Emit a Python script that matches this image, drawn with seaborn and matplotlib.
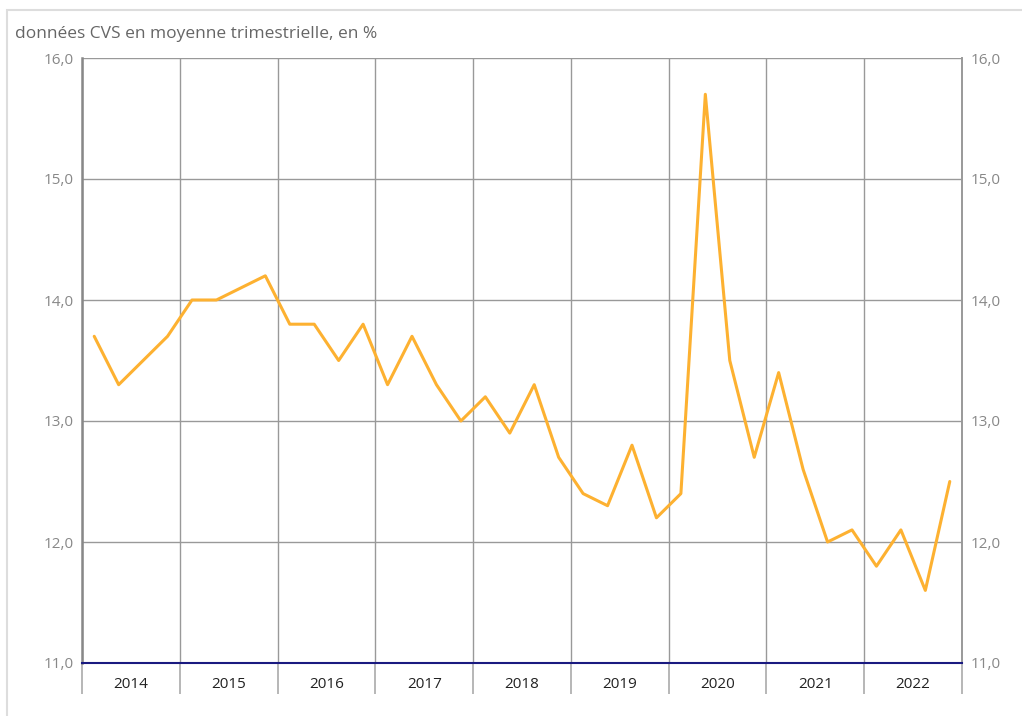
import numpy as np
import pandas as pd
import matplotlib.pyplot as plt
import seaborn as sns
from matplotlib.patches import Rectangle

# --- Data ---
years = [2014, 2015, 2016, 2017, 2018, 2019, 2020, 2021, 2022]
quarters = ['T1', 'T2', 'T3', 'T4']
rates = [13.7, 13.3, 13.5, 13.7,
         14.0, 14.0, 14.1, 14.2,
         13.8, 13.8, 13.5, 13.8,
         13.3, 13.7, 13.3, 13.0,
         13.2, 12.9, 13.3, 12.7,
         12.4, 12.3, 12.8, 12.2,
         12.4, 15.7, 13.5, 12.7,
         13.4, 12.6, 12.0, 12.1,
         11.8, 12.1, 11.6, 12.5]
y_ticks = [11.0, 12.0, 13.0, 14.0, 15.0, 16.0]
title = 'données CVS en moyenne trimestrielle, en %'

df = pd.DataFrame({
    'periode': [f'{y} {q}' for y in years for q in quarters],
    'pos': np.arange(len(rates)) + 0.5,
    'taux': rates,
})

sns.set_style('white')
plt.rcParams['font.family'] = ['Open Sans', 'DejaVu Sans']

fig = plt.figure(figsize=(10.22, 7.16), dpi=100)
ax = fig.add_axes([82 / 1022, 53 / 716, 880 / 1022, 605 / 716])

# light frame around the chart
fig.patches.append(Rectangle((7 / 1022, -0.05), 1.1, (716 - 10) / 716 + 0.05,
                             transform=fig.transFigure, fill=False,
                             edgecolor='#dddddd', linewidth=1.5))

sns.lineplot(data=df, x='pos', y='taux', ax=ax, color='#FDB131', linewidth=2.2)

ax.set_xlim(0, len(rates))
ax.set_ylim(11.0, 16.0)

# year separators as major ticks that run below the axis
bounds = np.arange(0, len(rates) + 1, 4)
ax.set_xticks(bounds)
ax.set_xticklabels([])
ax.set_xticks(bounds[:-1] + 2, minor=True)
ax.set_xticklabels([str(y) for y in years], minor=True)
ax.tick_params(axis='x', which='major', direction='out', length=22,
               width=1.2, color='#aaaaaa', bottom=True)
ax.tick_params(axis='x', which='minor', length=0, pad=10,
               labelsize=11, labelcolor='#222222')

ax.set_yticks(y_ticks)
ax.set_yticklabels([f'{v:.1f}'.replace('.', ',') for v in y_ticks])
ax.tick_params(axis='y', length=0, labelsize=11, labelcolor='#888888',
               labelleft=True, labelright=True, pad=6)

ax.grid(True, which='major', axis='both', color='#999999', linewidth=1)
ax.set_xlabel('')
ax.set_ylabel('')

ax.spines['top'].set_visible(False)
ax.spines['left'].set_color('#888888')
ax.spines['left'].set_linewidth(1.8)
ax.spines['right'].set_color('#999999')
ax.spines['right'].set_linewidth(1.4)
ax.spines['bottom'].set_color('#1a1a80')
ax.spines['bottom'].set_linewidth(1.5)
ax.spines['bottom'].set_zorder(3)

fig.text(15 / 1022, 1 - 34 / 716, title, fontsize=12.5, color='#666666',
         va='center', ha='left')

plt.savefig('out.png', dpi=100)
plt.close()
